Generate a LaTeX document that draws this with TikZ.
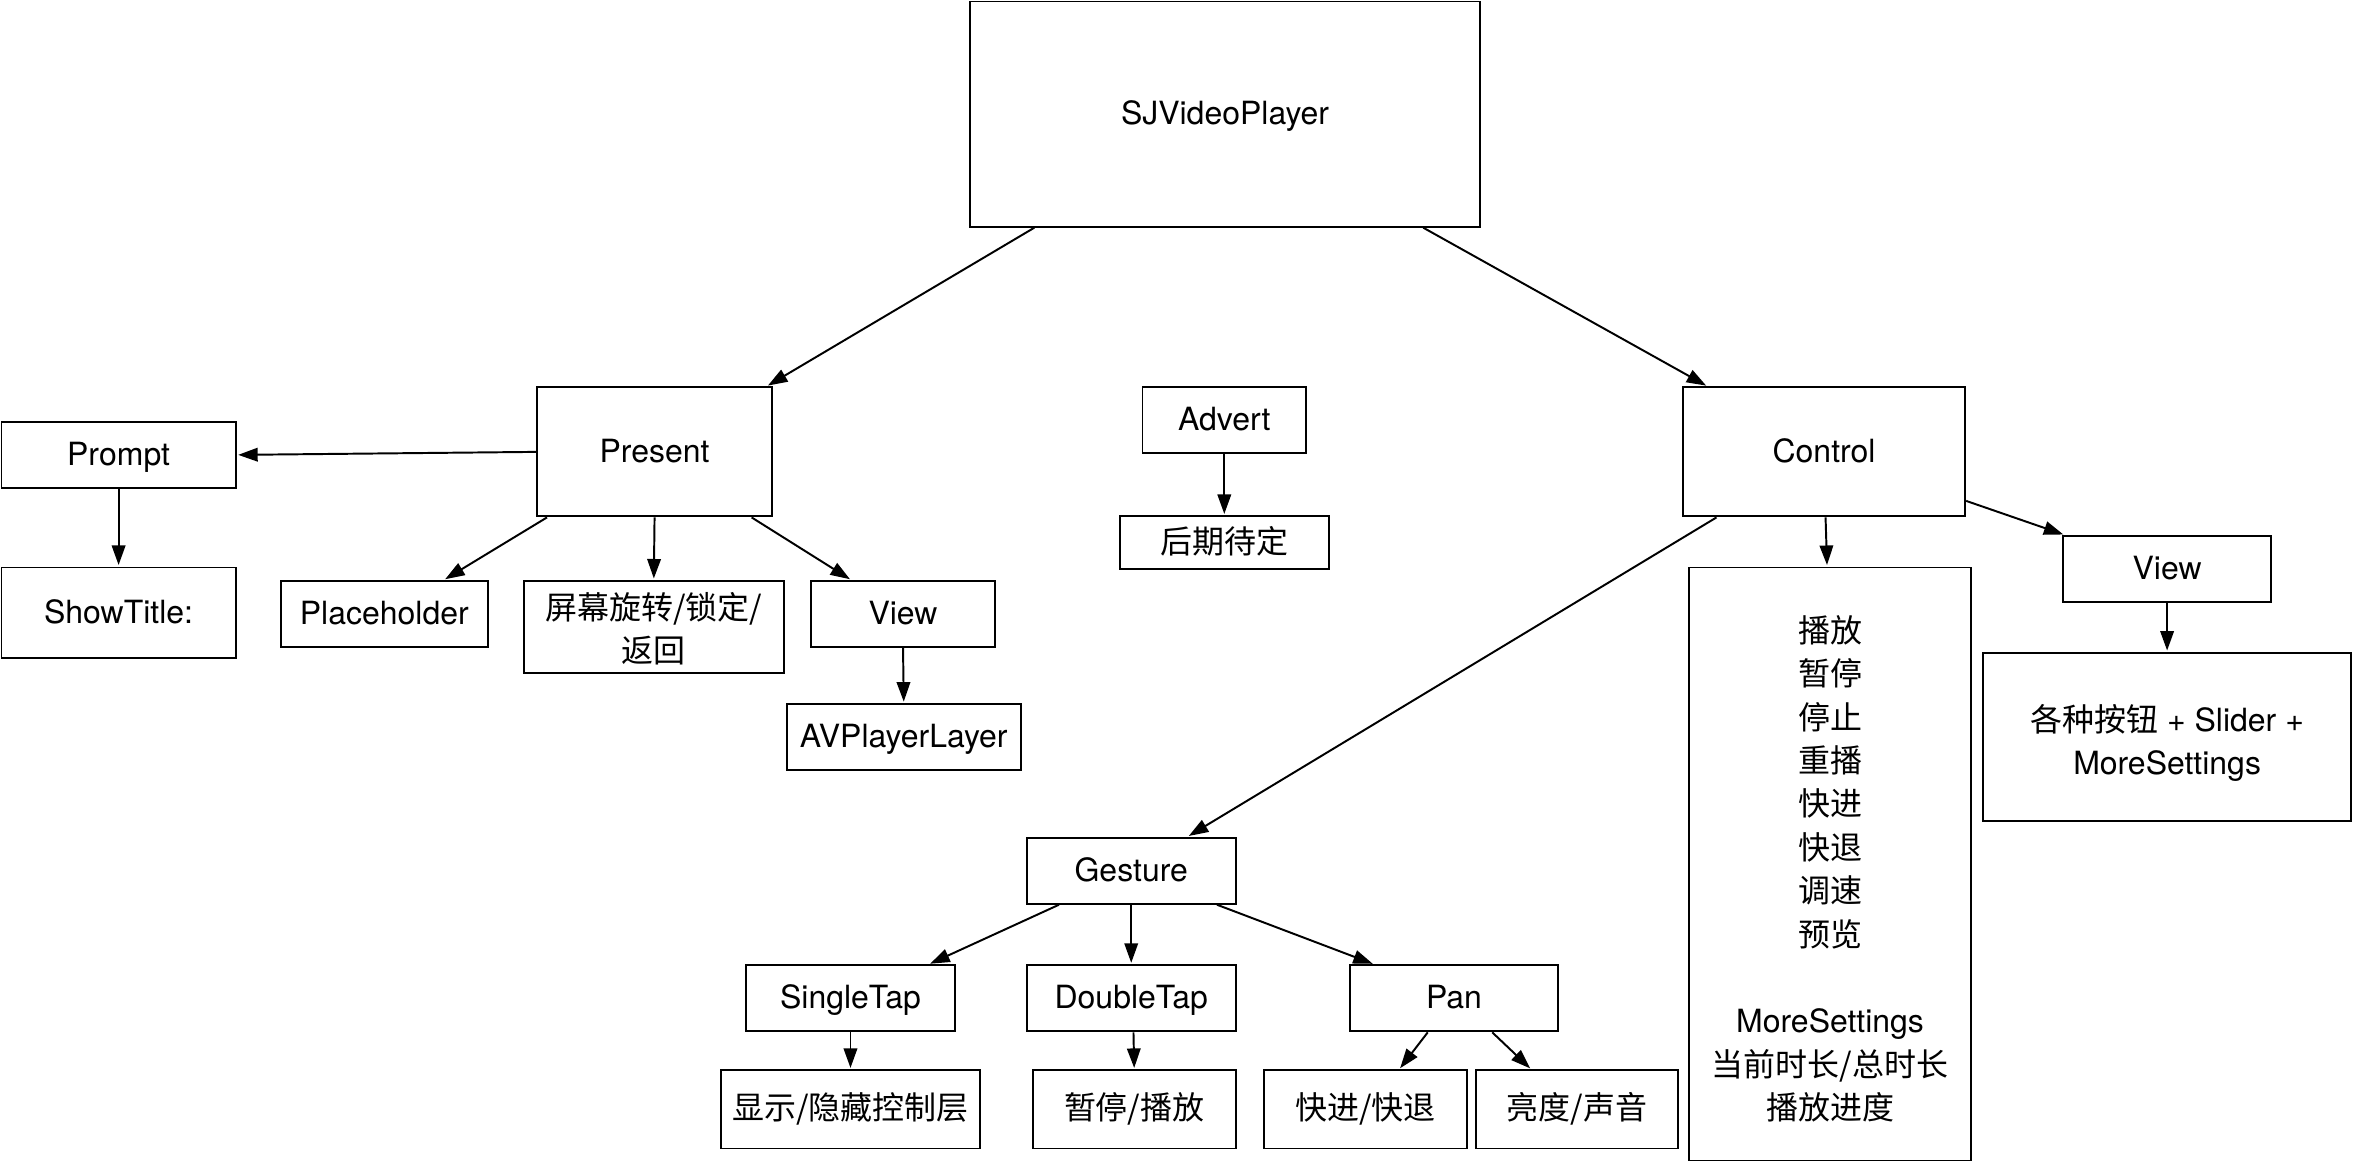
\documentclass[tikz,border=0pt]{standalone}
\usepackage{fontspec}
\setmainfont{TeX Gyre Heros}
\newfontfamily\cjk{Noto Sans CJK SC}
\usetikzlibrary{arrows.meta}
\begin{document}
\begin{tikzpicture}[x=1pt,y=-1pt,
  box/.style={draw=black,line width=1.3pt,rectangle,inner sep=0pt,align=center,
    font=\fontsize{21.3}{28.9}\selectfont},
  one/.style={text height=15pt,text depth=1pt},
  arr/.style={draw=black,line width=1.3pt,-{Triangle[length=13pt,width=9pt]},shorten >=1pt}]
\useasboundingbox (0,0) rectangle (1568,780.7);
% nodes
\node[box,one,minimum width=340pt,minimum height=150pt] (sj) at (816,76) {SJVideoPlayer};
\node[box,one,minimum width=156pt,minimum height=86pt] (present) at (436,301) {Present};
\node[box,one,minimum width=109pt,minimum height=44pt] (advert) at (815.5,280) {Advert};
\node[box,one,minimum width=139pt,minimum height=35pt] (later) at (815.5,361.5) {{\cjk 后期待定}};
\node[box,one,minimum width=188pt,minimum height=86pt] (control) at (1215,301) {Control};
\node[box,one,minimum width=156pt,minimum height=44pt] (prompt) at (79,303) {Prompt};
\node[box,one,minimum width=156pt,minimum height=60pt] (showtitle) at (79,408) {ShowTitle:};
\node[box,one,minimum width=138pt,minimum height=44pt] (placeholder) at (256,409) {Placeholder};
\node[box,minimum width=173pt,minimum height=61pt] (screen) at (435.5,417.5) {\rule{0pt}{21pt}{\cjk 屏幕旋转/锁定/}\\{\cjk 返回}};
\node[box,one,minimum width=123pt,minimum height=44pt] (pview) at (601.5,409) {View};
\node[box,one,minimum width=156pt,minimum height=44pt] (avlayer) at (602,491) {AVPlayerLayer};
\node[box,one,minimum width=139pt,minimum height=44pt] (gesture) at (753.5,580) {Gesture};
\node[box,one,minimum width=139pt,minimum height=44pt] (single) at (566.5,665) {SingleTap};
\node[box,one,minimum width=139pt,minimum height=44pt] (double) at (753.5,665) {DoubleTap};
\node[box,one,minimum width=139pt,minimum height=44pt] (pan) at (968.5,665) {Pan};
\node[box,one,minimum width=173pt,minimum height=52pt] (show) at (566.5,739) {{\cjk 显示/隐藏控制层}};
\node[box,one,minimum width=135pt,minimum height=52pt] (pause) at (755.5,739) {{\cjk 暂停/播放}};
\node[box,one,minimum width=135pt,minimum height=52pt] (ff) at (909.5,739) {{\cjk 快进/快退}};
\node[box,one,minimum width=135pt,minimum height=52pt] (bright) at (1050.5,739) {{\cjk 亮度/声音}};
\node[box,minimum width=188pt,minimum height=395pt] (list) at (1219,575.5)
  {\rule{0pt}{24.5pt}{\cjk 播放}\\{\cjk 暂停}\\{\cjk 停止}\\{\cjk 重播}\\{\cjk 快进}\\{\cjk 快退}\\{\cjk 调速}\\{\cjk 预览}\\[28.9pt]MoreSettings\\{\cjk 当前时长/总时长}\\{\cjk 播放进度}};
\node[box,one,minimum width=139pt,minimum height=44pt] (cview) at (1443.5,379) {View};
\node[box,minimum width=245pt,minimum height=112pt] (buttons) at (1443.5,491) {\rule{0pt}{25.5pt}{\cjk 各种按钮} + Slider +\\MoreSettings};
% connectors
\draw[arr] ([xshift=-127pt]sj.south) -- ([xshift=-4pt]present.north east);
\draw[arr] ([xshift=132pt]sj.south) -- ([xshift=17pt]control.north west);
\draw[arr] (present.west) -- (prompt.east);
\draw[arr] (prompt.south) -- (showtitle.north);
\draw[arr] ([xshift=7pt]present.south west) -- ([xshift=-30pt]placeholder.north east);
\draw[arr] (present.south) -- (screen.north);
\draw[arr] ([xshift=-14pt]present.south east) -- ([xshift=-34.5pt]pview.north);
\draw[arr] (pview.south) -- (avlayer.north);
\draw[arr] (advert.south) -- (later.north);
\draw[arr] ([xshift=23pt]control.south west) -- ([xshift=37.5pt]gesture.north);
\draw[arr] ([xshift=1pt]control.south) -- ([xshift=-2pt]list.north);
\draw[arr] ([yshift=11pt]control.south east) -- ([xshift=2pt]cview.north west);
\draw[arr] (cview.south) -- (buttons.north);
\draw[arr] ([xshift=22pt]gesture.south west) -- ([xshift=-18pt]single.north east);
\draw[arr] (gesture.south) -- (double.north);
\draw[arr] ([xshift=-13pt]gesture.south east) -- ([xshift=17pt]pan.north west);
\draw[arr] (single.south) -- (show.north);
\draw[arr] ([xshift=1.5pt]double.south) -- (pause.north);
\draw[arr] ([xshift=-17.5pt]pan.south) -- ([xshift=22.5pt]ff.north);
\draw[arr] ([xshift=25.5pt]pan.south) -- ([xshift=-30.5pt]bright.north);
\end{tikzpicture}
\end{document}
